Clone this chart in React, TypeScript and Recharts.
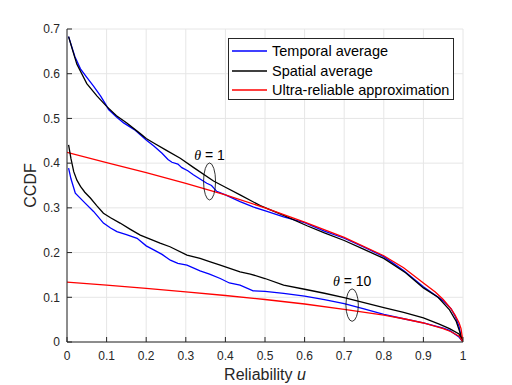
import React from 'react';
import { LineChart, Line, XAxis, YAxis, CartesianGrid, Legend, ReferenceDot, Label } from 'recharts';

type P = { u: number; v: number };
const mk = (rows: number[][]): P[] => rows.map(([u, v]) => ({ u, v }));

const xTicks = [0, 0.1, 0.2, 0.3, 0.4, 0.5, 0.6, 0.7, 0.8, 0.9, 1];
const yTicks = [0, 0.1, 0.2, 0.3, 0.4, 0.5, 0.6, 0.7];

const seriesNames = ['Temporal average', 'Spatial average', 'Ultra-reliable approximation'];
const seriesColors = ['#0000ff', '#000000', '#ff0000'];

const temporalTheta1 = mk([
  [0.004, 0.683], [0.02, 0.638], [0.034, 0.611], [0.05, 0.592], [0.067, 0.572], [0.085, 0.55],
  [0.1, 0.528], [0.105, 0.52], [0.125, 0.503], [0.143, 0.49], [0.17, 0.475], [0.2, 0.452],
  [0.22, 0.438], [0.24, 0.422], [0.255, 0.408], [0.265, 0.402], [0.28, 0.398], [0.29, 0.39],
  [0.305, 0.383], [0.319, 0.374], [0.335, 0.365], [0.353, 0.355], [0.365, 0.35], [0.378, 0.337],
  [0.4, 0.329], [0.437, 0.314], [0.47, 0.302], [0.505, 0.292], [0.547, 0.28], [0.6, 0.267],
  [0.65, 0.248], [0.7, 0.232], [0.75, 0.212], [0.8, 0.191], [0.85, 0.16], [0.9, 0.1235],
  [0.95, 0.092], [0.97, 0.074], [0.98, 0.058], [0.99, 0.035], [0.995, 0.012], [1, 0],
]);

const spatialTheta1 = mk([
  [0.004, 0.683], [0.015, 0.65], [0.025, 0.621], [0.05, 0.578], [0.076, 0.55], [0.1, 0.527],
  [0.125, 0.506], [0.151, 0.49], [0.185, 0.466], [0.2, 0.455], [0.219, 0.445], [0.25, 0.429],
  [0.286, 0.411], [0.32, 0.39], [0.37, 0.36], [0.4, 0.346], [0.437, 0.329], [0.488, 0.305],
  [0.55, 0.282], [0.606, 0.26], [0.65, 0.244], [0.7, 0.227], [0.75, 0.207], [0.8, 0.187],
  [0.855, 0.155], [0.9, 0.121], [0.937, 0.1], [0.966, 0.072], [0.983, 0.046], [0.992, 0.022], [1, 0],
]);

const approxTheta1 = mk([
  [0, 0.424], [0.1, 0.401], [0.2, 0.379], [0.3, 0.355], [0.4, 0.329], [0.5, 0.3], [0.6, 0.268],
  [0.7, 0.234], [0.8, 0.193], [0.85, 0.166], [0.9, 0.132], [0.93, 0.112], [0.95, 0.095],
  [0.97, 0.074], [0.98, 0.06], [0.99, 0.043], [0.995, 0.03], [1, 0],
]);

const temporalTheta10 = mk([
  [0.004, 0.389], [0.01, 0.365], [0.021, 0.333], [0.042, 0.314], [0.067, 0.292], [0.092, 0.266],
  [0.11, 0.255], [0.126, 0.247], [0.15, 0.24], [0.177, 0.232], [0.2, 0.215], [0.219, 0.206],
  [0.24, 0.196], [0.261, 0.183], [0.28, 0.176], [0.303, 0.172], [0.336, 0.159], [0.36, 0.152],
  [0.387, 0.142], [0.41, 0.132], [0.437, 0.127], [0.47, 0.1145], [0.5, 0.113], [0.547, 0.1086],
  [0.6, 0.1025], [0.65, 0.095], [0.7, 0.086], [0.75, 0.074], [0.8, 0.062], [0.85, 0.052],
  [0.9, 0.0427], [0.95, 0.031], [0.966, 0.026], [0.99, 0.011], [1, 0],
]);

const spatialTheta10 = mk([
  [0.004, 0.441], [0.01, 0.41], [0.017, 0.381], [0.025, 0.362], [0.034, 0.348], [0.045, 0.335],
  [0.059, 0.322], [0.075, 0.305], [0.092, 0.288], [0.11, 0.278], [0.134, 0.266], [0.16, 0.252],
  [0.185, 0.239], [0.21, 0.23], [0.235, 0.221], [0.26, 0.213], [0.303, 0.1945], [0.336, 0.187],
  [0.36, 0.18], [0.387, 0.172], [0.437, 0.157], [0.463, 0.152], [0.5, 0.142], [0.547, 0.127],
  [0.6, 0.118], [0.65, 0.109], [0.7, 0.0995], [0.75, 0.088], [0.8, 0.077], [0.85, 0.066],
  [0.9, 0.054], [0.94, 0.04], [0.966, 0.03], [0.99, 0.018], [1, 0],
]);

const approxTheta10 = mk([
  [0, 0.134], [0.1, 0.127], [0.2, 0.12], [0.3, 0.112], [0.4, 0.104], [0.5, 0.095], [0.6, 0.085],
  [0.7, 0.073], [0.8, 0.06], [0.85, 0.052], [0.9, 0.0425], [0.95, 0.03], [0.97, 0.023],
  [0.99, 0.013], [1, 0],
]);

const annotations = [
  { u: 0.36, v: 0.359, label: '1', rx: 6, ry: 18.5, dy: -21 },
  { u: 0.72, v: 0.0825, label: '10', rx: 6.2, ry: 16.2, dy: -19.5 },
];

const AX = '#262626';
const FONT = '"Liberation Sans", Arial, Helvetica, sans-serif';

const LegendBox = () => (
  <div
    style={{
      border: `1px solid ${AX}`,
      background: '#fff',
      width: 226,
      height: 62,
      boxSizing: 'border-box',
      paddingTop: 2,
      fontFamily: FONT,
      fontSize: 14.5,
      color: '#000',
      textAlign: 'left',
    }}
  >
    {seriesNames.map((n, i) => (
      <div key={n} style={{ height: 19.7, display: 'flex', alignItems: 'center', whiteSpace: 'nowrap' }}>
        <svg width={43} height={10} style={{ flex: 'none' }}>
          <line x1={3} x2={38} y1={5} y2={5} stroke={seriesColors[i]} strokeWidth={1.3} />
        </svg>
        <span>{n}</span>
      </div>
    ))}
  </div>
);

const XLabel = (props: any) => {
  const vb = props.viewBox || {};
  return (
    <text x={vb.x + vb.width / 2} y={vb.y + 38} textAnchor="middle" fontSize={16} fill={AX} fontFamily={FONT}>
      Reliability <tspan fontStyle="italic">u</tspan>
    </text>
  );
};

const YLabel = (props: any) => {
  const vb = props.viewBox || {};
  const cx = vb.x + 36;
  const cy = vb.y + vb.height / 2;
  return (
    <text x={cx} y={cy} textAnchor="middle" fontSize={16} fill={AX} fontFamily={FONT} transform={`rotate(-90, ${cx}, ${cy})`}>
      CCDF
    </text>
  );
};

export default function App() {
  return (
    <div style={{ position: 'absolute', left: 0, top: 0 }}>
      <LineChart width={512} height={385} margin={{ top: 29, right: 49, bottom: 0, left: 0 }} style={{ fontFamily: FONT }}>
        <CartesianGrid stroke="#e6e6e6" strokeWidth={1} />
        <XAxis
          xAxisId={0}
          type="number"
          dataKey="u"
          domain={[0, 1]}
          ticks={xTicks}
          height={43}
          tickSize={-5}
          tickMargin={14}
          stroke={AX}
          tick={{ fill: AX, fontSize: 12 }}
          allowDataOverflow
        >
          <Label content={<XLabel />} />
        </XAxis>
        <XAxis
          xAxisId="top"
          orientation="top"
          type="number"
          domain={[0, 1]}
          ticks={xTicks}
          height={0}
          tickSize={-5}
          tick={false}
          stroke={AX}
          allowDataOverflow
        />
        <YAxis
          yAxisId={0}
          type="number"
          domain={[0, 0.7]}
          ticks={yTicks}
          width={67}
          tickSize={-5}
          tickMargin={12}
          stroke={AX}
          tick={{ fill: AX, fontSize: 12 }}
          allowDataOverflow
        >
          <Label content={<YLabel />} />
        </YAxis>
        <YAxis
          yAxisId="right"
          orientation="right"
          type="number"
          domain={[0, 0.7]}
          ticks={yTicks}
          width={0}
          tickSize={-5}
          tick={false}
          stroke={AX}
          allowDataOverflow
        />
        <Line data={temporalTheta1} dataKey="v" name={seriesNames[0]} stroke={seriesColors[0]} strokeWidth={1.3} dot={false} isAnimationActive={false} />
        <Line data={spatialTheta1} dataKey="v" name={seriesNames[1]} stroke={seriesColors[1]} strokeWidth={1.3} dot={false} isAnimationActive={false} />
        <Line data={approxTheta1} dataKey="v" name={seriesNames[2]} stroke={seriesColors[2]} strokeWidth={1.3} dot={false} isAnimationActive={false} />
        <Line data={temporalTheta10} dataKey="v" name="t10" legendType="none" stroke={seriesColors[0]} strokeWidth={1.3} dot={false} isAnimationActive={false} />
        <Line data={spatialTheta10} dataKey="v" name="s10" legendType="none" stroke={seriesColors[1]} strokeWidth={1.3} dot={false} isAnimationActive={false} />
        <Line data={approxTheta10} dataKey="v" name="a10" legendType="none" stroke={seriesColors[2]} strokeWidth={1.3} dot={false} isAnimationActive={false} />
        {annotations.map((a) => (
          <ReferenceDot
            key={a.label}
            x={a.u}
            y={a.v}
            r={1}
            ifOverflow="visible"
            shape={(p: any) => (
              <g>
                <ellipse cx={p.cx} cy={p.cy} rx={a.rx} ry={a.ry} fill="none" stroke="#000" strokeWidth={0.8} />
                <text x={p.cx} y={p.cy + a.dy} textAnchor="middle" fontSize={14} fill="#000" fontFamily={FONT}>
                  <tspan fontFamily='"Liberation Serif", "DejaVu Serif", serif' fontStyle="italic">θ</tspan>
                  <tspan> = {a.label}</tspan>
                </text>
              </g>
            )}
          />
        ))}
        <Legend
          layout="vertical"
          align="center"
          verticalAlign="middle"
          content={<LegendBox />}
          wrapperStyle={{ position: 'absolute', left: 228, top: 38, width: 226, height: 62 }}
        />
      </LineChart>
    </div>
  );
}
